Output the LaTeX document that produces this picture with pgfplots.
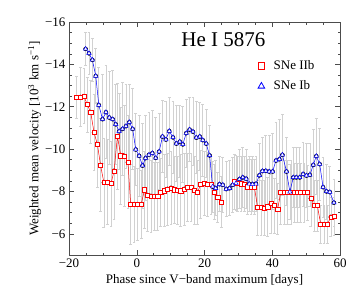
\documentclass[border=0pt]{standalone}
\usepackage{fontspec}
\setmainfont{Liberation Serif}
\usepackage{pgfplots}
\pgfplotsset{compat=1.18}
\usepackage{pgfplotstable}

\pgfplotstableread{
x y e
-17.7 -12.43 1.0
-16.6 -12.46 1.4
-15.6 -12.50 1.3
-14.6 -12.10 1.3
-13.6 -11.75 1.5
-12.6 -10.78 1.8
-11.6 -10.21 2.0
-10.7 -9.25 2.2
-9.7 -8.42 2.1
-8.6 -8.44 2.0
-7.6 -8.37 2.0
-6.7 -8.97 2.3
-5.7 -10.60 2.5
-4.7 -9.69 2.3
-3.7 -9.68 2.4
-2.6 -9.38 2.2
-1.8 -7.40 1.9
-0.8 -7.40 1.8
0.2 -7.40 1.7
1.3 -7.40 1.6
2.3 -8.08 1.8
3.2 -7.83 1.7
4.2 -7.79 1.7
5.2 -7.78 1.6
6.2 -7.76 1.6
7.1 -7.95 1.6
8.1 -8.03 1.7
9.1 -8.12 1.7
10.1 -8.17 1.7
11.1 -8.08 1.6
12.1 -8.04 1.6
13.0 -8.03 1.7
14.0 -8.12 1.7
15.0 -8.18 1.6
16.0 -8.18 1.6
17.0 -8.04 1.6
17.9 -7.95 1.5
18.9 -8.34 1.6
19.9 -8.37 1.5
20.9 -8.34 1.5
21.9 -8.34 1.4
22.9 -7.98 1.3
23.9 -7.72 1.2
24.9 -7.50 1.2
}\iibA

\pgfplotstableread{
x y e
28.8 -8.47 1.3
29.8 -8.37 1.3
30.8 -8.36 1.3
31.8 -8.34 1.3
32.7 -8.22 1.3
33.7 -8.22 1.3
34.7 -8.22 1.3
35.7 -7.24 1.3
36.7 -7.24 1.3
37.7 -7.21 1.3
38.7 -7.28 1.4
39.6 -7.43 1.4
40.6 -7.34 1.3
41.6 -7.17 1.2
42.5 -7.95 1.5
43.5 -7.95 1.5
44.5 -7.95 1.5
45.5 -7.95 1.5
46.5 -7.95 1.4
47.5 -7.95 1.4
48.4 -7.95 1.4
49.4 -7.95 1.4
50.4 -7.95 1.3
51.4 -7.67 1.3
52.4 -7.34 1.2
53.3 -7.34 1.2
54.3 -6.46 0.9
55.3 -6.46 0.9
56.3 -6.46 0.9
57.3 -6.80 0.9
58.2 -6.82 0.9
}\iibB

\pgfplotstableread{
x y e
-15.1 -14.73 0.8
-14.1 -14.52 1.0
-13.1 -14.21 1.0
-12.1 -13.45 1.3
-11.2 -12.08 1.8
-10.1 -11.41 2.1
-9.1 -11.74 2.2
-8.1 -11.49 2.2
-7.1 -11.41 2.3
-6.2 -11.17 1.9
-5.2 -10.84 1.8
-4.2 -10.95 2.2
-3.2 -11.08 2.0
-2.2 -11.27 1.8
-1.2 -10.95 1.9
-0.3 -9.98 1.7
0.7 -9.68 1.9
1.7 -9.22 2.0
2.6 -9.57 2.0
3.6 -9.73 2.0
4.6 -9.81 2.0
5.6 -9.58 1.9
6.6 -9.88 1.8
7.6 -10.59 1.7
8.6 -10.45 1.8
9.6 -10.85 1.6
10.7 -10.55 1.7
11.7 -10.26 1.8
12.7 -10.35 1.7
13.6 -10.22 1.8
14.6 -10.75 1.6
15.6 -10.92 1.5
16.6 -10.82 1.6
17.6 -10.54 1.7
18.6 -10.59 1.6
19.5 -10.42 1.7
20.5 -10.26 1.6
21.5 -9.70 1.4
22.4 -8.23 1.2
23.3 -8.15 1.3
24.4 -8.34 1.3
25.4 -8.31 1.3
26.4 -8.11 1.3
27.4 -8.15 1.3
28.3 -8.31 1.3
29.3 -8.39 1.3
30.3 -8.58 1.4
31.3 -8.66 1.4
32.3 -8.60 1.4
33.2 -8.36 1.3
34.2 -8.34 1.3
35.2 -8.36 1.3
36.2 -8.76 1.5
37.1 -8.96 1.6
38.1 -8.97 1.7
39.1 -8.94 1.7
40.1 -8.94 1.8
41.1 -9.46 1.8
42.1 -9.52 1.9
43.0 -9.73 1.9
44.2 -8.94 1.6
45.2 -7.98 1.3
46.2 -8.66 1.4
47.1 -8.66 1.4
48.1 -8.66 1.4
49.1 -8.82 1.5
50.1 -8.75 1.5
51.1 -8.78 1.5
52.1 -9.25 1.7
53.0 -9.67 1.8
54.0 -9.29 1.7
55.0 -8.20 1.4
56.0 -8.00 1.3
57.0 -7.97 1.2
58.2 -7.47 1.1
}\ib

\pgfplotsset{
  errstyle/.style={forget plot, only marks, mark=none,
    error bars/.cd, y dir=both, y explicit,
    error bar style={color=black!18, line width=0.7pt},
    error mark options={rotate=90, mark size=1.4pt, color=black!18, line width=0.7pt}},
}

\begin{document}
\begin{tikzpicture}
\begin{axis}[
  scale only axis, width=271pt, height=233pt,
  xmin=-20, xmax=60, ymin=-16, ymax=-5, y dir=reverse,
  xtick={-20,0,20,40,60}, xticklabels={−20,0,20,40,60},
  ytick={-16,-14,-12,-10,-8,-6}, yticklabels={−16,−14,−12,−10,−8,−6},
  minor x tick num=3, minor y tick num=3,
  tick align=inside, major tick length=5pt, minor tick length=2.5pt,
  tick style={black!70, line width=0.5pt},
  axis line style={black!70, line width=0.6pt},
  ticklabel style={font=\fontsize{13}{15}\selectfont},
  label style={font=\fontsize{13}{15}\selectfont},
  xlabel={Phase since V−band maximum [days]},
  ylabel={Weighted mean velocity [10\textsuperscript{3} km s\textsuperscript{−1}]},
  ylabel style={yshift=-3pt},
  legend style={draw=none, fill=none, at={(0.686,0.853)}, anchor=north west,
    font=\fontsize{13}{15}\selectfont, row sep=6pt, column sep=7pt},
  legend cell align=left,
]
\addplot[errstyle] table[x=x, y=y, y error=e] {\iibA};
\addplot[errstyle] table[x=x, y=y, y error=e] {\iibB};
\addplot[errstyle] table[x=x, y=y, y error=e] {\ib};

\addplot[forget plot, red, line width=0.5pt, mark=square*, mark size=2.1pt, mark options={fill=white, line width=0.5pt}] table[x=x, y=y] {\iibA};
\addplot[forget plot, red, line width=0.5pt, mark=square*, mark size=2.1pt, mark options={fill=white, line width=0.5pt}] table[x=x, y=y] {\iibB};
\addplot[forget plot, blue, line width=0.5pt, mark=triangle*, mark size=2.5pt, mark options={fill=white, line width=0.5pt}] table[x=x, y=y] {\ib};

\addlegendimage{only marks, red, mark=square, mark size=3.2pt, line width=0.8pt}
\addlegendentry{SNe IIb}
\addlegendimage{only marks, blue, mark=triangle, mark size=3.8pt, line width=0.8pt}
\addlegendentry{SNe Ib}

\node[anchor=base west, font=\fontsize{21}{24}\selectfont] at (axis description cs:0.402,0.893) {He I 5876};
\end{axis}
\pgfresetboundingbox
\path ([shift={(-69pt,-45pt)}]current axis.south west) rectangle ([shift={(20pt,22pt)}]current axis.north east);
\end{tikzpicture}
\end{document}
